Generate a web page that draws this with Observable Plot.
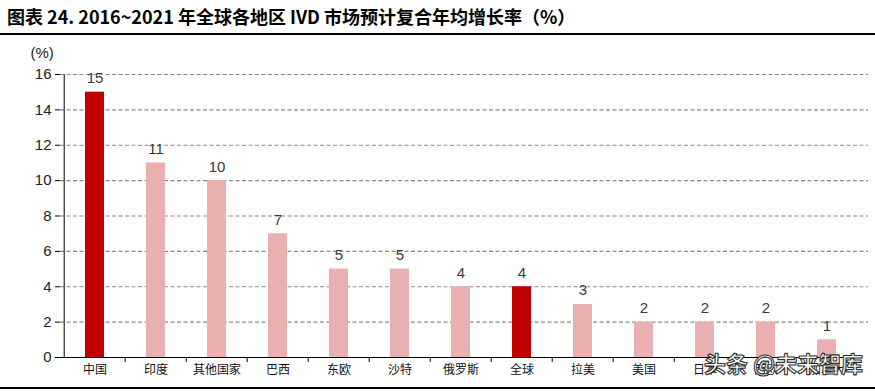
<!DOCTYPE html>
<html><head><meta charset="utf-8">
<script src="https://cdn.jsdelivr.net/npm/d3@7"></script>
<script src="https://cdn.jsdelivr.net/npm/@observablehq/plot@0.6"></script>
<style>
html,body{margin:0;padding:0;background:#fff;}
body{width:875px;height:392px;overflow:hidden;}
#title{height:33px;line-height:33px;padding-left:7px;border-bottom:2px solid #000;font-family:"Noto Sans CJK SC","Noto Sans",sans-serif;font-weight:bold;font-size:18px;color:#000;white-space:nowrap;}
#chart{height:352px;border-bottom:2px solid #000;}
#chart svg{display:block;}
</style>
</head><body>
<div id="title"></div>
<div id="chart"></div>
<script>
const titleText = "图表 24. 2016~2021 年全球各地区 IVD 市场预计复合年均增长率（%）";
const categories = ["中国","印度","其他国家","巴西","东欧","沙特","俄罗斯","全球","拉美","美国","日本","西欧","加拿大"];
const values = [15,11,10,7,5,5,4,4,3,2,2,2,1];
const highlighted = ["中国","全球"];
const yTicks = [0,2,4,6,8,10,12,14,16];
const yUnit = "(%)";
const watermark = "头条 @未来智库";

document.getElementById("title").textContent = titleText;

const data = categories.map((c,i)=>({cat:c, value:values[i], kind: highlighted.includes(c) ? "hi" : "lo"}));

const W=875, H=352, mL=60, mR=14, mT=39, mB=30;
const step = (W-mL-mR)/categories.length;

const chart = Plot.plot({
  width: W, height: H,
  marginLeft: mL, marginRight: mR, marginTop: mT, marginBottom: mB,
  style: {fontFamily: "'Liberation Sans', Arial, sans-serif", fontSize: "15px", color: "#222", background: "#fff", overflow: "visible"},
  x: {domain: categories, paddingInner: 0.69, paddingOuter: 0.345, axis: null, label: null},
  y: {domain: [0,16], axis: null, label: null},
  color: {domain: ["hi","lo"], range: ["#C00000","#EAB0B0"]},
  marks: [
    Plot.ruleY(yTicks.filter(d=>d>0), {stroke:"#8a8a8a", strokeWidth:1.1, strokeDasharray:"4,2.5", insetRight:-7}),
    Plot.barY(data, {x:"cat", y:"value", fill:"kind"}),
    Plot.text(data, {x:"cat", y:"value", text: d=>String(d.value), dy:-9, lineAnchor:"bottom", fontSize:15, fill:"#3a3a3a"}),
    Plot.axisY({ticks: yTicks, label: null, tickSize: 5, tickPadding: 4, fontSize: 15, stroke:"#000", fill:"#222"}),
    Plot.ruleX([categories[0]], {dx: -step/2, stroke:"#000"}),
    Plot.ruleY([0], {stroke:"#000"}),
    Plot.ruleX(categories.slice(1), {y1:0, y2:0, insetBottom:-5, dx:-step/2, stroke:"#000"}),
    Plot.axisX({label: null, tickSize: 0, tickPadding: 8, fontSize: 12, fontFamily: "'Noto Sans CJK SC', sans-serif", fill:"#111"}),
    Plot.text([yUnit], {frameAnchor:"top-left", dx:-30, dy:-27, fontSize:15, fill:"#222"}),
    Plot.text([watermark], {frameAnchor:"bottom-right", textAnchor:"middle", dx:-78, dy:14, fontSize:22, fontWeight:"bold", fontFamily:"'Noto Sans CJK SC', sans-serif", fill:"#fff", stroke:"#333", strokeWidth:1.1, paintOrder:"normal"})
  ]
});
document.getElementById("chart").appendChild(chart);
</script>
</body></html>
